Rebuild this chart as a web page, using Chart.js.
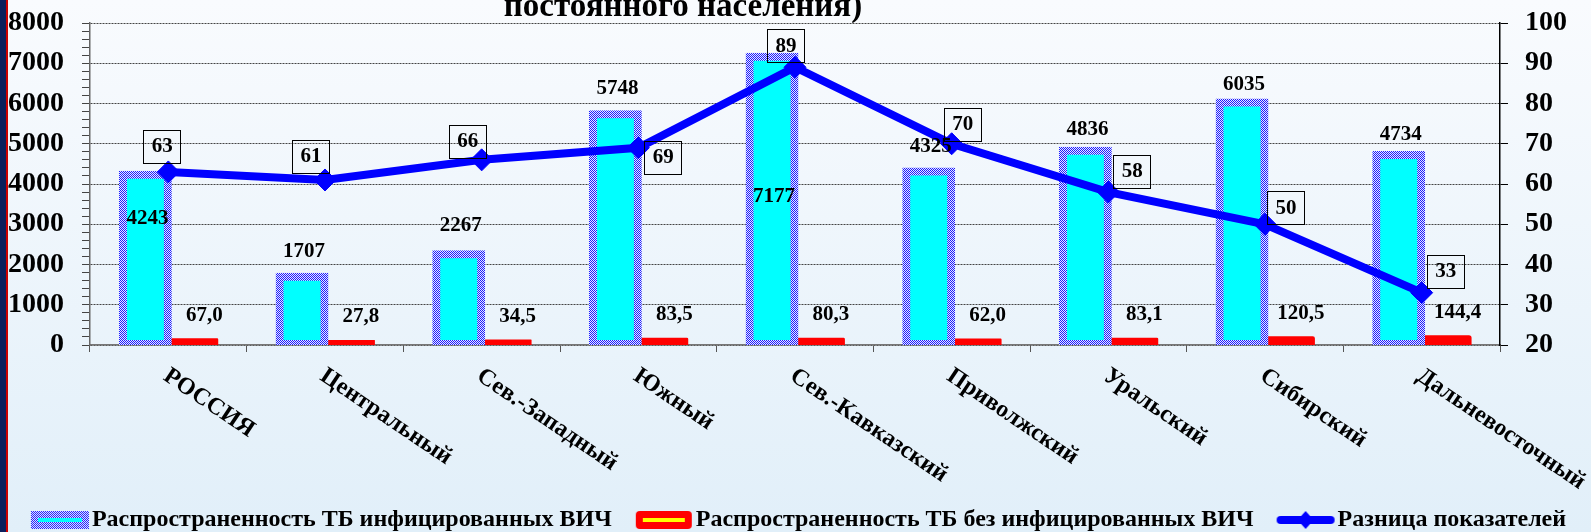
<!DOCTYPE html>
<html>
<head>
<meta charset="utf-8">
<title>Распространенность ТБ</title>
<script src="https://cdn.jsdelivr.net/npm/chart.js@4.4.1/dist/chart.umd.min.js"></script>
<style>
  html, body { margin: 0; padding: 0; background: #fff; }
  #tbChart { display: block; }
</style>
</head>
<body>
<canvas id="tbChart" width="1591" height="532"></canvas>
<script>
const regions = ['РОССИЯ', 'Центральный', 'Сев.-Западный', 'Южный', 'Сев.-Кавказский',
                 'Приволжский', 'Уральский', 'Сибирский', 'Дальневосточный'];
const tbHivRate = [4243, 1707, 2267, 5748, 7177, 4325, 4836, 6035, 4734];
const tbNoHivRate = [67.0, 27.8, 34.5, 83.5, 80.3, 62.0, 83.1, 120.5, 144.4];
const rateDiff = [63, 61, 66, 69, 89, 70, 58, 50, 33];

const titleTail = 'постоянного населения)';
const seriesNames = ['Распространенность ТБ инфицированных ВИЧ',
                     'Распространенность ТБ без инфицированных ВИЧ',
                     'Разница показателей'];

const serif = '"Liberation Serif", "Times New Roman", serif';
Chart.defaults.font.family = serif;
Chart.defaults.color = '#000';

const canvas = document.getElementById('tbChart');
const mainCtx = canvas.getContext('2d');

// blue/white checker used for the hiv-bar outline
function checker() {
    const c = document.createElement('canvas');
    c.width = 2; c.height = 2;
    const g = c.getContext('2d');
    g.fillStyle = '#e8e8ff'; g.fillRect(0, 0, 2, 2);
    g.fillStyle = '#1c1cff'; g.fillRect(0, 0, 1, 1); g.fillRect(1, 1, 1, 1);
    return c;
}
const checkerTile = checker();
const checkerFill = mainCtx.createPattern(checkerTile, 'repeat');

function swatch(kind) {
    const c = document.createElement('canvas');
    c.width = 60; c.height = 20;
    const g = c.getContext('2d');
    if (kind === 0) {
        g.fillStyle = g.createPattern(checkerTile, 'repeat');
        g.fillRect(1, 1, 58, 18);
        g.fillStyle = '#00ffff';
        g.fillRect(8, 8, 44, 4);
    } else if (kind === 1) {
        g.fillStyle = '#ff0000';
        g.beginPath(); g.roundRect(2, 1, 56, 18, 4); g.fill();
        g.fillStyle = '#ffff00';
        g.fillRect(9, 8, 42, 4);
    } else {
        g.strokeStyle = '#0000ff'; g.lineWidth = 8; g.lineCap = 'round';
        g.beginPath(); g.moveTo(5, 10); g.lineTo(55, 10); g.stroke();
        g.fillStyle = '#0000ff';
        g.beginPath(); g.moveTo(30, 1); g.lineTo(38, 10); g.lineTo(30, 19); g.lineTo(22, 10); g.closePath(); g.fill();
    }
    return c;
}
const swatches = [swatch(0), swatch(1), swatch(2)];

const backdrop = {
    id: 'backdrop',
    beforeDraw(chart) {
        const {ctx, width, height} = chart;
        const g = ctx.createLinearGradient(0, 0, 0, height);
        g.addColorStop(0, '#f9fbfe');
        g.addColorStop(1, '#e1eff9');
        ctx.save();
        ctx.fillStyle = g;
        ctx.fillRect(0, 0, width, height);
        ctx.fillStyle = '#0b1f5c';
        ctx.fillRect(0, 0, 6, height);
        ctx.fillStyle = '#cc0000';
        ctx.fillRect(6, 0, 2, height);
        ctx.restore();
    },
    afterDraw(chart) {
        const ctx = chart.ctx;
        ctx.save();
        ctx.font = 'bold 33px ' + serif;
        ctx.fillStyle = '#000';
        ctx.textAlign = 'center';
        ctx.textBaseline = 'alphabetic';
        ctx.fillText(titleTail, chart.chartArea.left + 593, 16);
        ctx.restore();
    }
};

const valueLabels = {
    id: 'valueLabels',
    afterDatasetsDraw(chart, args, opts) {
        const ctx = chart.ctx;
        ctx.save();
        ctx.font = 'bold 21px ' + serif;
        ctx.fillStyle = '#000';
        ctx.textAlign = 'center';
        ctx.textBaseline = 'middle';
        chart.getDatasetMeta(0).data.forEach((bar, i) => {
            ctx.fillText(String(tbHivRate[i]), bar.x + 2, bar.y + opts.hivShift[i]);
        });
        chart.getDatasetMeta(1).data.forEach((bar, i) => {
            ctx.fillText(tbNoHivRate[i].toFixed(1).replace('.', ','), bar.x + 13, bar.y - 27);
        });
        ctx.strokeStyle = '#000';
        ctx.lineWidth = 1;
        chart.getDatasetMeta(2).data.forEach((pt, i) => {
            const x = pt.x + opts.diffDx[i];
            const y = pt.y + opts.diffDy[i];
            ctx.strokeRect(Math.round(x - 18) + 0.5, Math.round(y - 16) + 0.5, 37, 33);
            ctx.fillText(String(rateDiff[i]), x + 1, y + 1);
        });
        ctx.restore();
    }
};

const slantedLabels = {
    id: 'slantedLabels',
    afterDraw(chart) {
        const ctx = chart.ctx;
        const xs = chart.scales.x;
        ctx.save();
        ctx.font = 'bold 24px ' + serif;
        ctx.fillStyle = '#000';
        ctx.textAlign = 'left';
        ctx.textBaseline = 'top';
        regions.forEach((name, i) => {
            ctx.save();
            ctx.translate(xs.getPixelForValue(i) + 4, xs.top + 19);
            ctx.rotate(34 * Math.PI / 180);
            ctx.fillText(name, 0, 0);
            ctx.restore();
        });
        ctx.restore();
    }
};

// fixed axis box sizes, label overflow is not allowed to push the plot area
function fixWidth(w) {
    return s => { s.width = w; s.paddingTop = 0; s.paddingBottom = 0; };
}

new Chart(canvas, {
    data: {
        labels: regions,
        datasets: [{
            type: 'bar',
            label: seriesNames[0],
            data: tbHivRate,
            yAxisID: 'y',
            order: 1,
            backgroundColor: '#00ffff',
            borderColor: checkerFill,
            borderWidth: 8,
            borderSkipped: false,
            inflateAmount: 3.5,
            categoryPercentage: 0.586,
            barPercentage: 1
        }, {
            type: 'bar',
            label: seriesNames[1],
            data: tbNoHivRate,
            yAxisID: 'y',
            order: 2,
            backgroundColor: '#ff0000',
            borderWidth: 0,
            borderRadius: {topLeft: 5, topRight: 5},
            inflateAmount: 4,
            categoryPercentage: 0.586,
            barPercentage: 1
        }, {
            type: 'line',
            label: seriesNames[2],
            data: rateDiff,
            yAxisID: 'y2',
            order: 0,
            borderColor: '#0000ff',
            borderWidth: 8,
            tension: 0,
            pointStyle: 'rectRot',
            pointRadius: 11,
            pointBackgroundColor: '#0000ff',
            pointBorderColor: '#0000ff',
            pointBorderWidth: 1
        }]
    },
    options: {
        responsive: false,
        devicePixelRatio: 1,
        animation: false,
        layout: { padding: { left: 7.5, right: -7.5, top: 23, bottom: -10 } },
        scales: {
            x: {
                offset: true,
                ticks: { display: false },
                grid: { offset: true, drawOnChartArea: false, drawTicks: true, tickLength: 7, color: '#555' },
                border: { color: '#777', width: 1.5 },
                afterFit: s => { s.height = 131; s.paddingLeft = 0; s.paddingRight = 0; }
            },
            y: {
                position: 'left',
                min: 0,
                max: 8000,
                ticks: {
                    stepSize: 200,
                    autoSkip: false,
                    padding: 18,
                    color: '#000',
                    font: { size: 28, weight: 'bold' },
                    callback: v => (v % 1000 === 0 ? v : '')
                },
                grid: {
                    color: c => (c.tick && c.tick.value % 1000 === 0 ? '#444' : 'rgba(0,0,0,0)'),
                    tickColor: '#444',
                    tickLength: 8
                },
                border: { color: '#666', width: 1.5, dash: [2, 1] },
                afterFit: fixWidth(82.5)
            },
            y2: {
                position: 'right',
                min: 20,
                max: 100,
                ticks: { stepSize: 10, autoSkip: false, padding: 17, color: '#000', font: { size: 28, weight: 'bold' } },
                grid: { drawOnChartArea: false, tickLength: 8, color: '#000' },
                border: { color: '#000', width: 1.5 },
                afterFit: fixWidth(98.5)
            }
        },
        plugins: {
            tooltip: { enabled: false },
            legend: {
                position: 'bottom',
                labels: {
                    usePointStyle: true,
                    pointStyleWidth: 40,
                    padding: 32,
                    color: '#000',
                    font: { size: 24, weight: 'bold' },
                    generateLabels: chart => chart.data.datasets.map((ds, i) => ({
                        text: ds.label,
                        pointStyle: swatches[i],
                        datasetIndex: i,
                        fontColor: '#000',
                        hidden: false,
                        lineWidth: 0
                    }))
                }
            },
            valueLabels: {
                hivShift: [44, -25, -28, -25, 140, -24, -21, -18, -20],
                diffDx: [-7, -15, -15, 24, -10, 10, 23, 20, 23],
                diffDy: [-26, -24, -19, 9, -22, -20, -21, -17, -22]
            }
        }
    },
    plugins: [backdrop, valueLabels, slantedLabels]
});
</script>
</body>
</html>
